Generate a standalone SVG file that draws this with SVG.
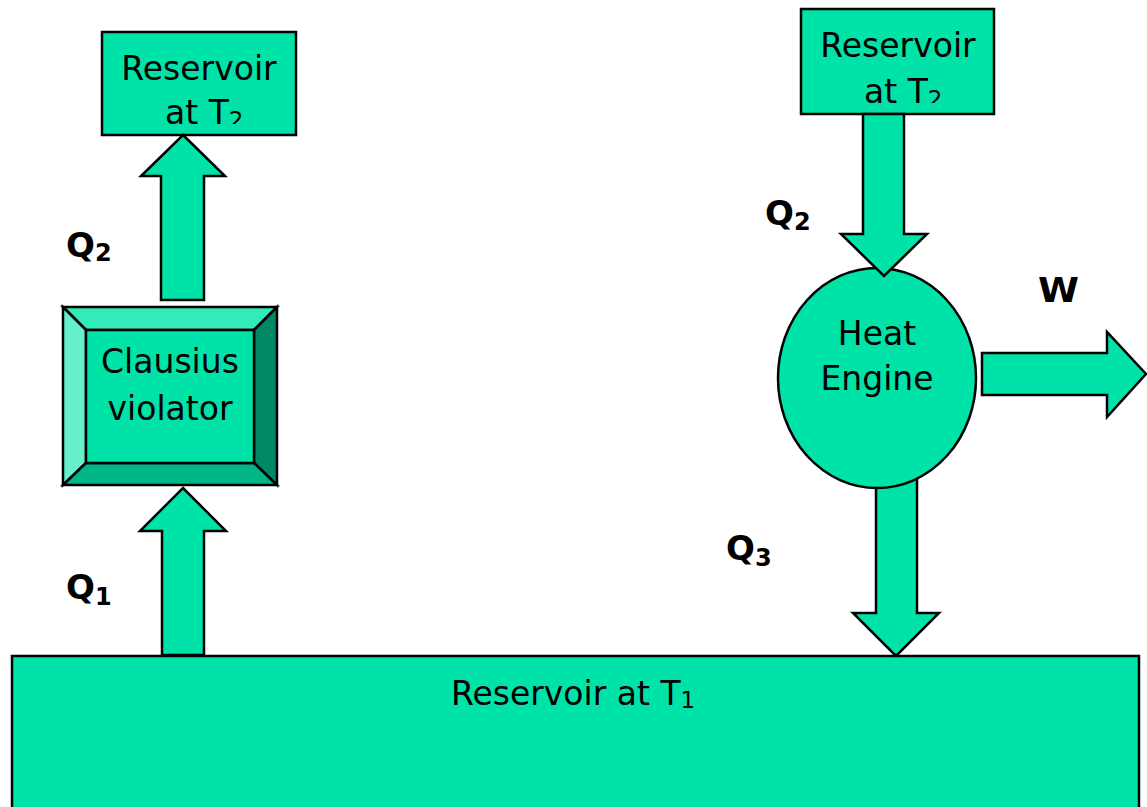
<svg xmlns="http://www.w3.org/2000/svg" width="1147" height="807" viewBox="0 0 1147 807">
<defs>
<style>
.box{fill:#00E3A8;stroke:#000;stroke-width:2.5}
.arrow{fill:#00E3A8;stroke:#000;stroke-width:2.5;stroke-linejoin:miter}
.bev{stroke:#000;stroke-width:2.5;stroke-linejoin:miter}
.t{font-family:"DejaVu Sans",Verdana,sans-serif;font-size:33px;fill:#000}
.lbl{font-family:"DejaVu Sans","Liberation Sans",sans-serif;font-weight:bold;font-size:34px;fill:#000}
</style>
<clipPath id="clipL"><rect x="102" y="32" width="194" height="92"/></clipPath>
<clipPath id="clipR"><rect x="801" y="9" width="193" height="94"/></clipPath>
</defs>
<rect width="1147" height="807" fill="#fff"/>

<g id="reservoir-t1">
<rect class="box" x="12" y="656" width="1127" height="170"/>
<text class="t" x="451" y="705">Reservoir at T<tspan font-size="23" dy="3">1</tspan></text>
</g>

<g id="reservoir-t2-left">
<rect class="box" x="102" y="32" width="194" height="103"/>
<text class="t" x="199" y="80" text-anchor="middle">Reservoir</text>
<text class="t" x="165" y="124" clip-path="url(#clipL)">at T<tspan font-size="23" dy="4">2</tspan></text>
</g>

<g id="reservoir-t2-right">
<rect class="box" x="801" y="9" width="193" height="105"/>
<text class="t" x="898" y="57" text-anchor="middle">Reservoir</text>
<text class="t" x="864" y="103" clip-path="url(#clipR)">at T<tspan font-size="23" dy="4">2</tspan></text>
</g>

<g id="clausius-violator">
<polygon class="bev" fill="#33EAB9" points="63,307 277,307 254,330 86,330"/>
<polygon class="bev" fill="#66EFCB" points="63,307 86,330 86,463 63,485"/>
<polygon class="bev" fill="#008864" points="277,307 277,485 254,463 254,330"/>
<polygon class="bev" fill="#00B586" points="63,485 277,485 254,463 86,463"/>
<rect class="box" x="86" y="330" width="168" height="133"/>
<text class="t" x="170" y="373" text-anchor="middle">Clausius</text>
<text class="t" x="170" y="420" text-anchor="middle">violator</text>
</g>

<g id="connectors">
<polygon id="arrow-q3" class="arrow" points="876,478 917,478 917,613 939,613 896,656 853,613 876,613"/>
</g>

<g id="heat-engine">
<ellipse class="box" cx="877" cy="378" rx="99" ry="110"/>
<text class="t" x="877" y="345" text-anchor="middle">Heat</text>
<text class="t" x="877" y="390" text-anchor="middle">Engine</text>
</g>

<g id="connectors-top">
<polygon id="arrow-q2-left" class="arrow" points="183,135 225,176 204,176 204,300 161,300 161,176 141,176"/>
<polygon id="arrow-q1" class="arrow" points="183,488 226,531 204,531 204,655 162,655 162,531 140,531"/>
<polygon id="arrow-q2-right" class="arrow" points="863,114 904,114 904,234 927,234 884,276 841,234 863,234"/>
<polygon id="arrow-w" class="arrow" points="982,353 1107,353 1107,332 1146,374 1107,417 1107,395 982,395"/>
</g>

<g id="labels">
<text class="lbl" x="66" y="257">Q<tspan font-size="24" dy="4">2</tspan></text>
<text class="lbl" x="66" y="599">Q<tspan font-size="24" dy="6">1</tspan></text>
<text class="lbl" x="765" y="225">Q<tspan font-size="24" dy="5">2</tspan></text>
<text class="lbl" x="726" y="560">Q<tspan font-size="24" dy="6">3</tspan></text>
<text class="lbl" x="1038" y="302" font-size="39" textLength="41" lengthAdjust="spacingAndGlyphs">W</text>
</g>
</svg>
